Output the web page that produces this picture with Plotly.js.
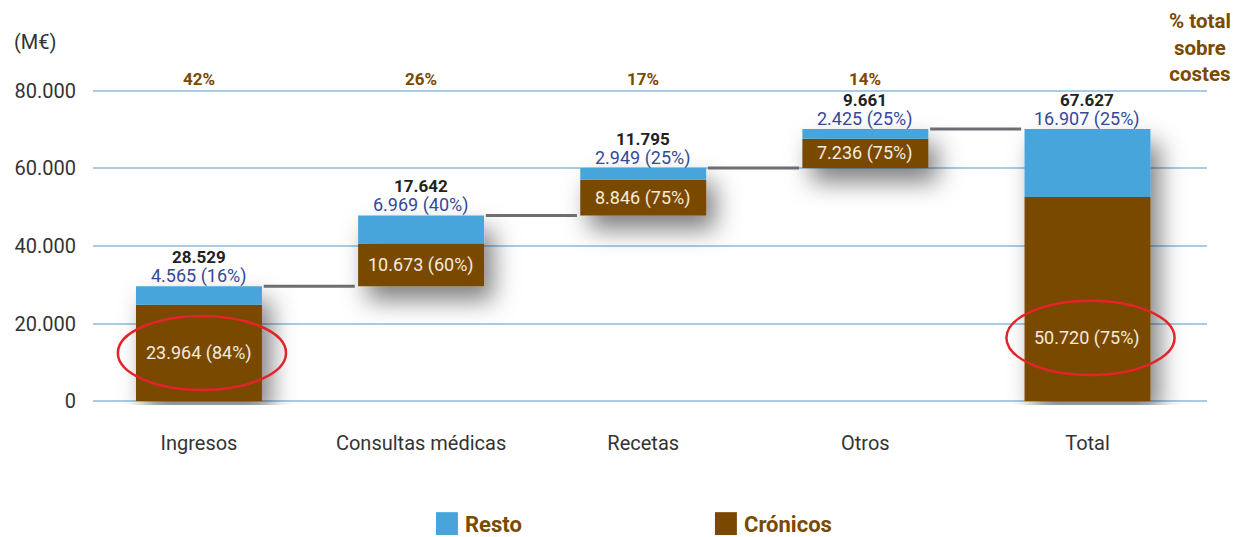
<!DOCTYPE html>
<html>
<head>
<meta charset="utf-8">
<script src="https://cdn.plot.ly/plotly-3.0.1.min.js"></script>
<style>
  html, body { margin: 0; padding: 0; background: #ffffff; }
  #chart { width: 1242px; height: 537px; }
</style>
</head>
<body>
<div id="chart"></div>
<script>
// ---------------- DATA ----------------
const categories = ['Ingresos', 'Consultas médicas', 'Recetas', 'Otros', 'Total'];
const cronicos = [23964, 10673, 8846, 7236, 50720];
const resto = [4565, 6969, 2949, 2425, 16907];
const totals = [28529, 17642, 11795, 9661, 67627];
const pctCronicos = [84, 60, 75, 75, 75];
const pctResto = [16, 40, 25, 25, 25];
const pctSobreCostes = ['42%', '26%', '17%', '14%', ''];
const isTotal = [false, false, false, false, true];
const yTicks = [0, 20000, 40000, 60000, 80000];

// ---------------- STYLE ----------------
const FONT = 'Roboto, "Noto Sans", sans-serif';
const BLUE = '#47a5db';
const BROWN = '#7a4800';
const LABEL_BROWN = '#7a4a00';
const GRID = '#a9cbe6';
const BAR_W = 0.567;
const cronLabelFrac = [0.5, 0.5, 0.5, 0.5, 0.31];
const circled = [true, false, false, false, true];
const BAR_SCALE = 0.964; // bars in the reference are drawn on a slightly stretched scale

function fmt(n) {
  return String(n).replace(/\B(?=(\d{3})+(?!\d))/g, '.');
}

// waterfall bases
const bases = [];
let run = 0;
for (let i = 0; i < categories.length; i++) {
  if (isTotal[i]) { bases.push(0); }
  else { bases.push(run); run += totals[i]; }
}
const xIdx = categories.map((_, i) => i);
const restoBase = bases.map((b, i) => b + cronicos[i]);
const tops = bases.map((b, i) => b + cronicos[i] + resto[i]);

const traces = [
  {
    type: 'bar', name: 'Crónicos', x: xIdx, y: cronicos, base: bases, yaxis: 'y2',
    width: BAR_W, marker: { color: BROWN, line: { width: 0 } },
    hoverinfo: 'skip', showlegend: false
  },
  {
    type: 'bar', name: 'Resto', x: xIdx, y: resto, base: restoBase, yaxis: 'y2',
    width: BAR_W, marker: { color: BLUE, line: { width: 0 } },
    hoverinfo: 'skip', showlegend: false
  }
];

const annotations = [];
const shapes = [];

for (let i = 0; i < categories.length; i++) {
  annotations.push({
    x: i, y: tops[i], xref: 'x', yref: 'y2', text: '<b>' + fmt(totals[i]) + '</b>',
    showarrow: false, yshift: 29, yanchor: 'middle',
    font: { family: FONT, size: 17, color: '#222222' }
  });
  annotations.push({
    x: i, y: tops[i], xref: 'x', yref: 'y2', text: fmt(resto[i]) + ' (' + pctResto[i] + '%)',
    showarrow: false, yshift: 10, yanchor: 'middle',
    font: { family: FONT, size: 18, color: '#34499b' }
  });
  annotations.push({
    x: i, y: bases[i] + cronicos[i] * cronLabelFrac[i], xref: 'x', yref: 'y2',
    text: fmt(cronicos[i]) + ' (' + pctCronicos[i] + '%)',
    showarrow: false, yanchor: 'middle',
    font: { family: FONT, size: 18, color: '#f4ebdd' }
  });
  if (pctSobreCostes[i]) {
    annotations.push({
      x: i, y: 80000, xref: 'x', yref: 'y', text: '<b>' + pctSobreCostes[i] + '</b>',
      showarrow: false, yshift: 12, yanchor: 'middle',
      font: { family: FONT, size: 17, color: LABEL_BROWN }
    });
  }
  if (i < categories.length - 1) {
    shapes.push({
      type: 'line', xref: 'x', yref: 'y2',
      x0: i + BAR_W / 2 + 0.008, x1: i + 1 - BAR_W / 2 - 0.015,
      y0: tops[i], y1: tops[i],
      line: { color: '#6d6e71', width: 3 }, layer: 'above'
    });
  }
  if (circled[i]) {
    const cy = bases[i] + cronicos[i] * cronLabelFrac[i];
    shapes.push({
      type: 'circle', xref: 'x', yref: 'y2',
      x0: i - 0.365, x1: i + 0.392,
      y0: cy - 9200, y1: cy + 9200,
      line: { color: '#e3242b', width: 2.5 }, layer: 'above'
    });
  }
}

annotations.push({
  xref: 'paper', yref: 'paper', x: -0.052, y: 1.14, xanchor: 'center', yanchor: 'middle',
  text: '(M€)', showarrow: false, font: { family: FONT, size: 20, color: '#333333' }
});
annotations.push({
  xref: 'paper', yref: 'paper', x: 1.023, y: 1.123, xanchor: 'right', yanchor: 'middle',
  text: '<b>% total<br>sobre<br>costes</b>', align: 'center', showarrow: false,
  font: { family: FONT, size: 20.5, color: LABEL_BROWN }
});

const legendItems = [
  { name: 'Resto', color: BLUE, x0: 0.3079 },
  { name: 'Crónicos', color: BROWN, x0: 0.5583 }
];
legendItems.forEach(it => {
  shapes.push({
    type: 'rect', xref: 'paper', yref: 'paper',
    x0: it.x0, x1: it.x0 + 0.0197, y0: -0.409, y1: -0.337,
    fillcolor: it.color, line: { width: 0 }
  });
  annotations.push({
    xref: 'paper', yref: 'paper', x: it.x0 + 0.0243, y: -0.375,
    xanchor: 'left', yanchor: 'middle', showarrow: false,
    text: '<b>' + it.name + '</b>',
    font: { family: FONT, size: 22, color: LABEL_BROWN }
  });
});

const yRange = [-1000, 81000];
const layout = {
  width: 1242, height: 537,
  margin: { l: 93, r: 35, t: 87, b: 132 },
  paper_bgcolor: '#ffffff', plot_bgcolor: '#ffffff',
  separators: ',.',
  barmode: 'overlay',
  showlegend: false,
  font: { family: FONT, color: '#333333' },
  xaxis: {
    range: [-0.477, 4.538],
    tickmode: 'array', tickvals: xIdx, ticktext: categories,
    showgrid: false, zeroline: false, showline: false, ticks: '',
    ticklabelstandoff: 24,
    tickfont: { family: FONT, size: 20, color: '#333333' }
  },
  yaxis: {
    range: yRange,
    tickmode: 'array', tickvals: yTicks, tickformat: ',d',
    showgrid: true, gridcolor: GRID, gridwidth: 2,
    zeroline: false, showline: false, ticks: '',
    ticklabelstandoff: 16,
    tickfont: { family: FONT, size: 20, color: '#333333' }
  },
  yaxis2: {
    overlaying: 'y', side: 'left',
    range: [yRange[0] * BAR_SCALE, yRange[1] * BAR_SCALE],
    showgrid: false, zeroline: false, showline: false, showticklabels: false, ticks: ''
  },
  annotations: annotations,
  shapes: shapes
};

Plotly.newPlot('chart', traces, layout, { staticPlot: true, displayModeBar: false }).then(gd => {
  const svg = gd.querySelector('svg.main-svg');
  const NS = 'http://www.w3.org/2000/svg';
  let defs = svg.querySelector('defs');
  if (!defs) { defs = document.createElementNS(NS, 'defs'); svg.insertBefore(defs, svg.firstChild); }
  const filter = document.createElementNS(NS, 'filter');
  filter.setAttribute('id', 'barShadow');
  filter.setAttribute('x', '-40%'); filter.setAttribute('y', '-40%');
  filter.setAttribute('width', '200%'); filter.setAttribute('height', '200%');
  const ds = document.createElementNS(NS, 'feDropShadow');
  ds.setAttribute('dx', '9'); ds.setAttribute('dy', '14');
  ds.setAttribute('stdDeviation', '12');
  ds.setAttribute('flood-color', '#000000');
  ds.setAttribute('flood-opacity', '0.5');
  filter.appendChild(ds);
  defs.appendChild(filter);
  gd.querySelectorAll('.barlayer').forEach(g => g.setAttribute('filter', 'url(#barShadow)'));
});
</script>
</body>
</html>
